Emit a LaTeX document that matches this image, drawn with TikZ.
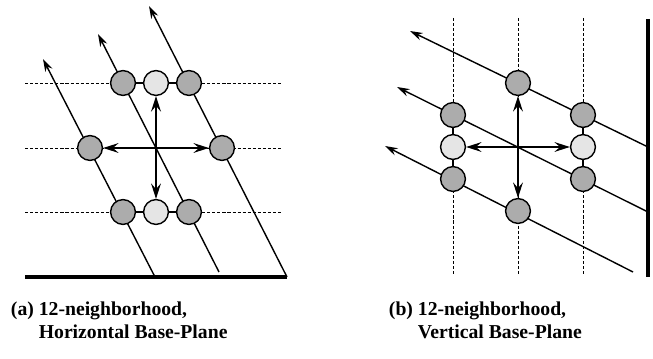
\documentclass[tikz,border=0pt]{standalone}
\usepackage{fontspec}
\setmainfont{Liberation Serif}
\usepackage{tikz}
\usetikzlibrary{arrows.meta, positioning}

\begin{document}
\begin{tikzpicture}[
        x=0.025cm, y=-0.025cm,
        site/.style={circle, draw, line width=1pt, inner sep=0pt, minimum size=0.62cm, fill=#1},
        site/.default=gray!60,
        dark/.style={site=gray!65},
        light/.style={site=gray!20},
        gridline/.style={dash pattern=on 2.2pt off 1.4pt, line width=0.7pt},
        slant/.style={-{Stealth[length=9pt, width=5.5pt]}, line width=1pt},
        move/.style={-{Stealth[length=11pt, width=7pt, inset=4pt]}, line width=#1},
        move/.default=1.1pt,
        link/.style={line width=0.9pt},
        baseplane/.style={line width=2.4pt},
        caption/.style={anchor=north west, align=left, font=\bfseries\fontsize{14}{16}\selectfont}
    ]
    \useasboundingbox (0,0) rectangle (653,359);

    % (a) horizontal base-plane
    \coordinate (ca) at (156,148);
    \foreach \y in {83,148,212} \draw[gridline] (25,\y) -- (283,\y);
    \coordinate (a-l1) at (155,277); \coordinate (a-t1) at (43,59);
    \coordinate (a-l2) at (219,272); \coordinate (a-t2) at (98,34);
    \coordinate (a-l3) at (287,277); \coordinate (a-t3) at (149,6);
    \draw[slant] (a-l1) -- (a-t1);
    \draw[slant] (a-l2) -- (a-t2);
    \draw[slant] (a-l3) -- (a-t3);
    \coordinate (a-w) at (25,277); \coordinate (a-e) at (287,277);
    \draw[baseplane] (a-w) -- (a-e);

    \node[dark]  (a-tl) at (123,83) {};
    \node[light] (a-tc) at (156,83) {};
    \node[dark]  (a-tr) at (189,83) {};
    \node[dark]  (a-ml) at (90,148) {};
    \node[dark]  (a-mr) at (222,148) {};
    \node[dark]  (a-bl) at (123,212) {};
    \node[light] (a-bc) at (156,212) {};
    \node[dark]  (a-br) at (189,212) {};
    \draw[link] (a-tl) -- (a-tc) -- (a-tr);
    \draw[link] (a-bl) -- (a-bc) -- (a-br);

    \draw[move=1.6pt] (ca) -- (a-tc);
    \draw[move=1.3pt] (ca) -- (a-bc);
    \draw[move] (ca) -- (a-ml);
    \draw[move] (ca) -- (a-mr);

    % (b) vertical base-plane
    \coordinate (cb) at (518,147);
    \foreach \x in {453,518,583} \draw[gridline] (\x,18) -- (\x,274);
    \coordinate (b-l1) at (648,147); \coordinate (b-t1) at (410,31);
    \coordinate (b-l2) at (648,212); \coordinate (b-t2) at (397,87);
    \coordinate (b-l3) at (633,272); \coordinate (b-t3) at (385,146);
    \draw[slant] (b-l1) -- (b-t1);
    \draw[slant] (b-l2) -- (b-t2);
    \draw[slant] (b-l3) -- (b-t3);
    \coordinate (b-n) at (648,19); \coordinate (b-s) at (648,277);
    \draw[baseplane] (b-n) -- (b-s);

    \node[dark]  (b-tc) at (518,83) {};
    \node[dark]  (b-bc) at (518,211) {};
    \node[dark]  (b-lt) at (453,115) {};
    \node[light] (b-lm) at (453,147) {};
    \node[dark]  (b-lb) at (453,179) {};
    \node[dark]  (b-rt) at (583,115) {};
    \node[light] (b-rm) at (583,147) {};
    \node[dark]  (b-rb) at (583,179) {};
    \draw[link] (b-lt) -- (b-lm) -- (b-lb);
    \draw[link] (b-rt) -- (b-rm) -- (b-rb);

    \draw[move=1.3pt] (cb) -- (b-tc);
    \draw[move=1.3pt] (cb) -- (b-bc);
    \draw[move] (cb) -- (b-lm);
    \draw[move] (cb) -- (b-rm);

    % captions
    \node[caption] (capa) at (6,297) {(a) 12-neighborhood,\\\phantom{(a) }Horizontal Base-Plane};
    \node[caption] (capb) at (384,297) {(b) 12-neighborhood,\\\phantom{(b) }Vertical Base-Plane};
\end{tikzpicture}
\end{document}
